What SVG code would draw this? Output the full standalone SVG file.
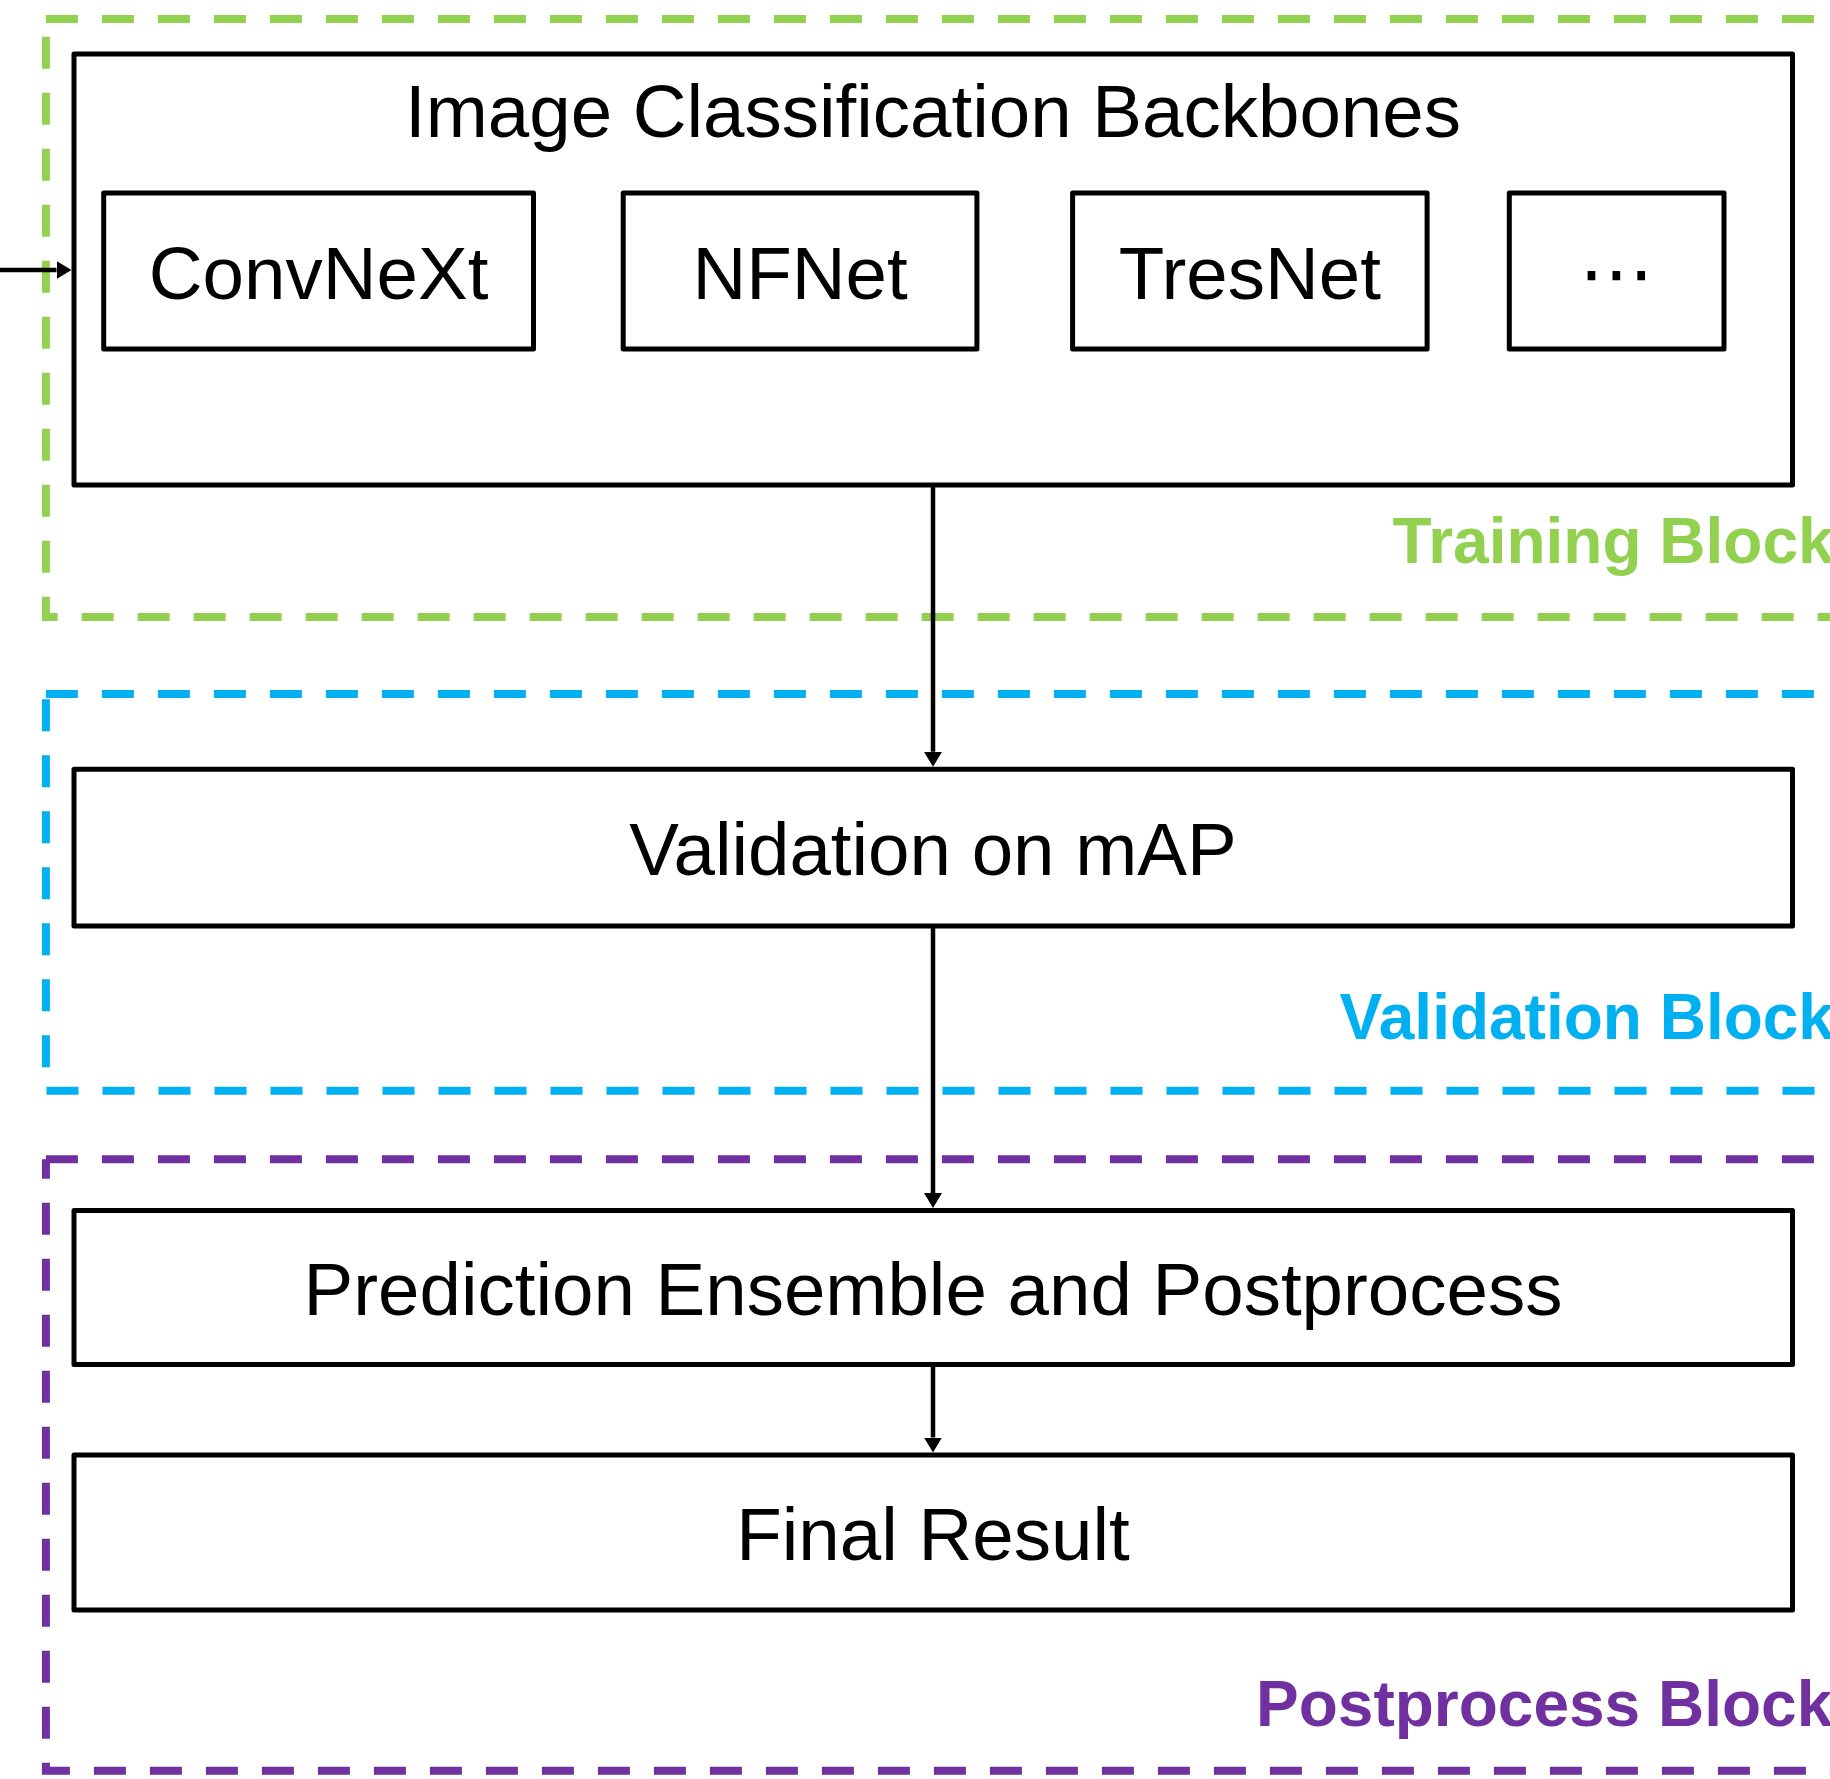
<svg xmlns="http://www.w3.org/2000/svg" width="1830" height="1779" viewBox="0 0 1830 1779">
  <style>
    .box { fill: #ffffff; stroke: #000000; stroke-width: 5; stroke-linejoin: round; }
    .lbl { font-family: "Liberation Sans", Arial, sans-serif; font-size: 74.5px; fill: #000000; text-anchor: middle; }
    .blk { font-family: "Liberation Sans", Arial, sans-serif; font-size: 64px; font-weight: bold; }
    .dash { fill: none; stroke-width: 8; stroke-dasharray: 32 24; stroke-linecap: butt; }
    .conn { fill: none; stroke: #000000; stroke-width: 4.5; marker-end: url(#arrow); }
  </style>
  <defs>
    <marker id="arrow" markerUnits="userSpaceOnUse" markerWidth="15" markerHeight="18" viewBox="0 0 15 18" refX="0" refY="9" orient="auto">
      <path d="M0,0 L15,9 L0,18 Z" fill="#000000"/>
    </marker>
  </defs>
  <rect width="1830" height="1779" fill="#ffffff"/>

  <!-- Stage frames (dashed, open to the right) -->
  <g id="training-block">
    <path class="dash" stroke="#92D050" d="M45.9,19 H1840"/>
    <path class="dash" stroke="#92D050" stroke-dashoffset="38.3" d="M45.9,19 V617 H1840"/>
    <text class="blk" fill="#92D050" x="1392.6" y="563">Training Block</text>
  </g>
  <g id="validation-block">
    <path class="dash" stroke="#00B0F0" d="M45.9,694 H1840"/>
    <path class="dash" stroke="#00B0F0" stroke-dashoffset="50.7" d="M45.9,694 V1090.7 H1840"/>
    <text class="blk" fill="#00B0F0" x="1339.6" y="1038.5">Validation Block</text>
  </g>
  <g id="postprocess-block">
    <path class="dash" stroke="#7030A0" d="M45.9,1159.3 H1840"/>
    <path class="dash" stroke="#7030A0" stroke-dashoffset="12.6" d="M45.9,1159.3 V1770.7 H1840"/>
    <text class="blk" fill="#7030A0" x="1256" y="1726">Postprocess Block</text>
  </g>

  <!-- Backbone container -->
  <g id="backbones">
    <rect class="box" x="74" y="54" width="1718.5" height="431"/>
    <text class="lbl" x="933" y="136.7">Image Classification Backbones</text>
  </g>
  <g id="convnext">
    <rect class="box" x="103.7" y="193" width="429.8" height="156"/>
    <text class="lbl" x="318.6" y="298.5">ConvNeXt</text>
  </g>
  <g id="nfnet">
    <rect class="box" x="623.2" y="193" width="353.7" height="156"/>
    <text class="lbl" x="800" y="298.5">NFNet</text>
  </g>
  <g id="tresnet">
    <rect class="box" x="1072.6" y="193" width="354.5" height="156"/>
    <text class="lbl" x="1249.8" y="298.5">TresNet</text>
  </g>
  <g id="more-backbones">
    <rect class="box" x="1509.3" y="193" width="214.7" height="156"/>
    <text class="lbl" x="1616.6" y="298.5" style="font-family: 'DejaVu Sans', sans-serif;">⋯</text>
  </g>

  <g id="validation">
    <rect class="box" x="74" y="769.3" width="1718.5" height="156.7"/>
    <text class="lbl" x="933" y="875">Validation on mAP</text>
  </g>
  <g id="ensemble">
    <rect class="box" x="74" y="1210.5" width="1718.5" height="154"/>
    <text class="lbl" x="933" y="1315">Prediction Ensemble and Postprocess</text>
  </g>
  <g id="final-result">
    <rect class="box" x="74" y="1455" width="1718.5" height="155"/>
    <text class="lbl" x="933" y="1560">Final Result</text>
  </g>

  <!-- Connectors -->
  <g id="connectors">
    <line class="conn" x1="0" y1="270" x2="56.5" y2="270"/>
    <line class="conn" x1="933" y1="485" x2="933" y2="751.8"/>
    <line class="conn" x1="933" y1="926" x2="933" y2="1193"/>
    <line class="conn" x1="933" y1="1364.5" x2="933" y2="1437.5"/>
  </g>
</svg>
